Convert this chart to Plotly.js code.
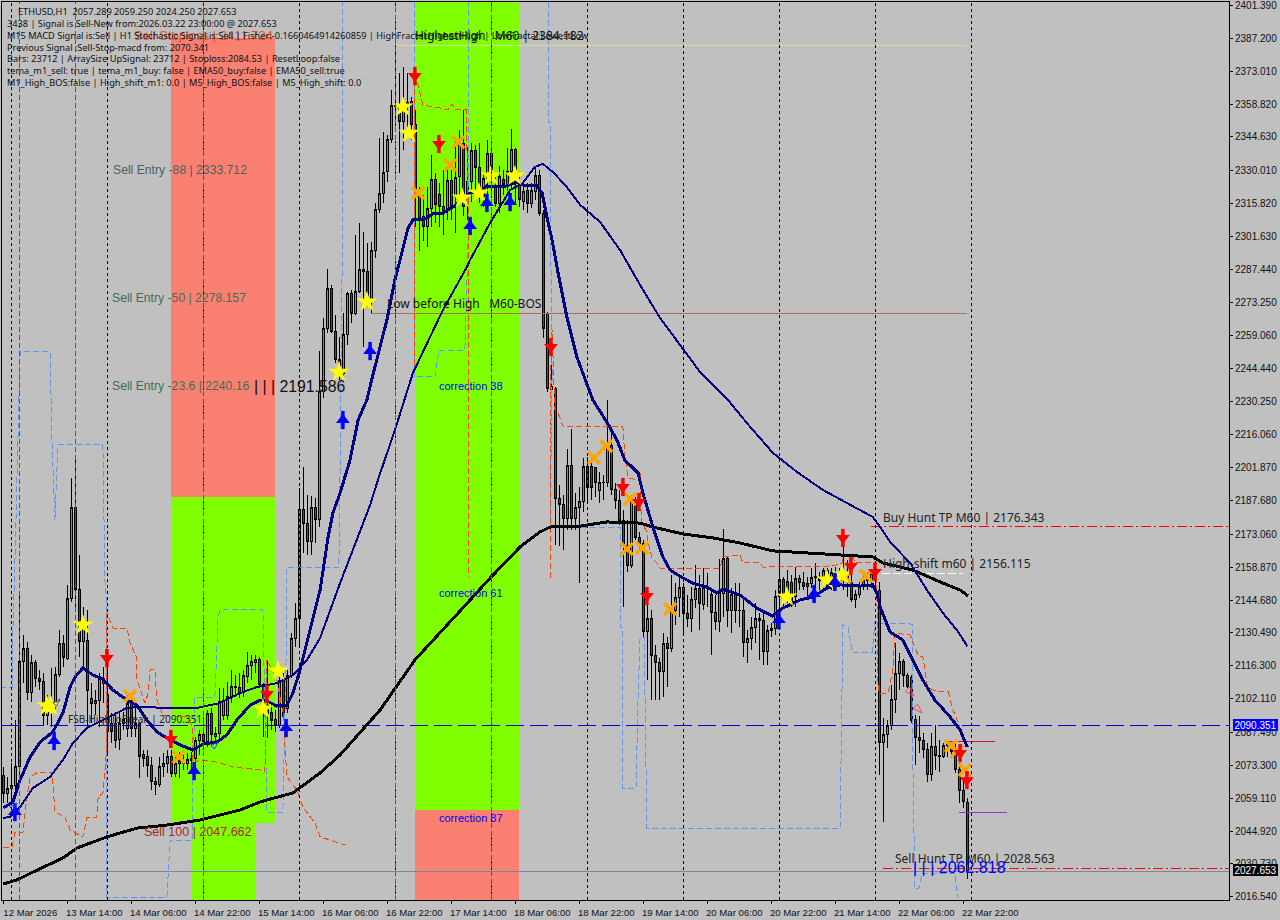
<!DOCTYPE html>
<html><head><meta charset="utf-8">
<script src="https://cdn.plot.ly/plotly-3.0.1.min.js"></script>
<style>html,body{margin:0;padding:0;background:#c0c0c0;overflow:hidden}#c{width:1280px;height:920px}
.boxlayer path,.shapelayer path,.scatterlayer .js-line{shape-rendering:crispEdges}</style>
</head><body><div id="c"></div>
<script>
const opens=[2069.1,2061.2,2063.4,2064.4,2072.7,2118.1,2123.8,2104.7,2117.8,2110.9,
2109.7,2094.7,2100.1,2100.1,2112.6,2126,2119.5,2145.4,2184.7,2149.3,
2126.7,2127.4,2102.2,2100.1,2101.5,2108.7,2103.7,2091.4,2091.4,2084.5,
2091.4,2089.3,2101.5,2089.3,2091.4,2077.8,2077,2073.4,2066.2,2065.1,
2072.7,2073.9,2077.3,2069.6,2073.9,2073.9,2074.2,2076.3,2076.3,2084.2,
2086.8,2083.5,2095.7,2085.7,2087.1,2095,2095,2102.9,2106.8,2107,
2104.7,2111.6,2116.2,2117.6,2119.1,2108,2099.3,2096.2,2092.9,2090.7,
2110.4,2097.9,2112.3,2128.1,2136.8,2183.6,2177.8,2169.9,2184.7,2179.5,
2234.7,2262,2279.3,2260.6,2243.3,2242.6,2259.4,2277.1,2268.5,2277.9,
2287.5,2286.6,2274.3,2295.6,2313.1,2320.3,2329.7,2343.6,2357.7,2358.4,
2351.2,2357.7,2359.9,2349.8,2318.9,2310.3,2305.9,2313.9,2326.4,2319.6,
2314.6,2313.9,2325.7,2318.9,2327.5,2341.9,2316,2325.4,2338.6,2331.6,
2318.9,2326.8,2337.6,2323.2,2316,2326.1,2323.9,2329.7,2339.3,2323.9,
2316.7,2321.5,2316,2321.1,2327.9,2311.7,2268.2,2236.8,2236,2188.5,
2186,2179.9,2202.9,2179.9,2184.7,2187.1,2202.5,2202.2,2201.8,2191.9,
2195.3,2195.5,2211.6,2192.4,2187.5,2179.2,2168.4,2159.5,2186.4,2171.7,
2169.1,2131,2136.7,2120.6,2117.6,2113.7,2126,2123.8,2140,2145.8,
2150.1,2138.9,2136.7,2144.7,2149.7,2142.9,2150,2147.2,2139.5,2135.3,
2147.5,2162.6,2140,2147.2,2140.3,2140,2126.2,2128.1,2132.9,2136.5,
2136,2122.4,2132.3,2132.4,2146.1,2153.6,2152.6,2152.1,2146.1,2154,
2152.3,2150.4,2151.9,2154.3,2154.4,2154.4,2157.3,2151.1,2156.5,2154.7,
2156.2,2155.5,2152.1,2145.1,2147.1,2150.4,2153.6,2153.3,2156.2,2148.8,
2083.1,2086.5,2090.3,2101.6,2113.1,2118.1,2112.3,2111.3,2092.9,2085.4,
2084,2080.3,2069.2,2081.4,2077.4,2077.1,2081.7,2082.1,2080.7,2071.3,2062.4,2057.289];
const highs=[2072.7,2068.4,2074.2,2092.9,2147.6,2129.6,2126.7,2120.9,2118.8,2114.5,
2113,2103.7,2115.2,2115.9,2131.7,2129.6,2151.2,2197.2,2206.6,2164.1,
2141.8,2140.4,2108.7,2105.8,2113,2115.9,2117.3,2095.7,2096.5,2096.5,
2096.5,2103.7,2104.4,2098.6,2091.4,2079.9,2079.9,2077,2068.4,2077,
2078.5,2079.9,2079.9,2077,2079.2,2077.8,2078.5,2079.2,2085.7,2088.5,
2088.5,2097.2,2097.9,2090,2106.5,2106.5,2109.4,2114.4,2112.3,2113,
2114.4,2122.4,2120.9,2120.9,2120.2,2108.7,2118.8,2100.1,2097.2,2111.6,
2113,2114.4,2130.3,2143.2,2192.9,2202.3,2190,2189.6,2188.6,2252,
2266.3,2287.5,2280.7,2267.8,2258.4,2268.5,2277.9,2278.6,2302.3,2307.4,
2303.8,2298.7,2299.4,2316,2344,2346.9,2345.5,2364.9,2384.3,2372.1,
2375,2372.1,2362,2356.3,2323.2,2319.6,2323.2,2336.9,2329,2324.7,
2330.4,2331.9,2330.4,2343.4,2347.7,2356.3,2340.5,2341.9,2341.2,2341.9,
2329,2343.4,2340.5,2327.5,2331.9,2330.4,2339.8,2348,2339.8,2329,
2326.1,2324.7,2324.7,2331.9,2330.4,2313,2269.2,2256.9,2236.8,2194.3,
2190,2210.1,2218.5,2190.7,2193.6,2205.8,2206.5,2205.8,2202.2,2200.1,
2198.6,2231,2216.6,2195,2192.1,2183.5,2179.2,2190,2189.3,2174.2,
2170.6,2142.5,2140.3,2125.2,2119.5,2130.3,2128.8,2155.5,2151.9,2154.7,
2151.9,2146.8,2150.4,2159.8,2155.5,2158.3,2156.2,2149.7,2146.8,2162.6,
2175.2,2163.4,2149.7,2151.9,2151.9,2144.7,2131.7,2137.5,2143.2,2138.9,
2138.9,2133.9,2134.6,2149,2166.2,2154.7,2157.6,2155.5,2159,2155.5,
2156.9,2154.7,2158.3,2160.5,2156.9,2158.3,2158.3,2158.3,2159,2158.3,
2167.7,2161.9,2156.2,2149,2152.6,2156.2,2156.9,2157.6,2158.3,2152.6,
2093.6,2092.9,2108,2126,2121.7,2119.1,2113.1,2112.3,2095.1,2094.4,
2087.2,2082.9,2087.2,2090.8,2084.3,2082.9,2083.6,2083.1,2082.9,2074.2,2067.7,2059.25];
const lows=[2056.9,2056.9,2056.9,2062.7,2068.4,2108.7,2101.5,2100.8,2107.3,2105.8,
2090.7,2090.7,2090,2097.2,2111.6,2115.9,2118.8,2144,2141.8,2120.2,
2114.5,2090,2091.4,2095,2090,2100.1,2078.5,2082.8,2080.6,2079.9,
2088.5,2085.7,2085.7,2085.7,2067.7,2072.7,2068.4,2062.6,2060.5,2064.1,
2068.4,2069.8,2068.4,2068.4,2067.7,2071.3,2071.3,2071.3,2069.8,2077.8,
2079.9,2081.3,2082.1,2082.8,2083.5,2092.9,2092.9,2100.1,2102.9,2102.2,
2102.9,2108.7,2110.1,2113,2107.3,2085.7,2084.9,2088.5,2087.8,2089.3,
2092.9,2095.7,2110.8,2124.5,2124.6,2165.1,2164.1,2164.1,2169.2,2176.4,
2231.8,2259.9,2259.9,2246.9,2239.7,2241.2,2254.8,2264.2,2267.8,2277.1,
2254.1,2271.4,2268.5,2292.2,2311.7,2316,2325.3,2341.9,2352,2328.9,
2339,2347.6,2343.3,2305.9,2295.2,2299.5,2297.3,2305.9,2307.4,2305.9,
2302.4,2308.8,2308.8,2303.1,2317.5,2310.3,2308.8,2316.7,2321.1,2316,
2314.6,2318.9,2320.3,2314.6,2311.7,2319.6,2321.1,2322.5,2316,2314.6,
2313.1,2311.7,2313.9,2317.5,2310.3,2258,2234.6,2233.9,2168.4,2168.1,
2166.2,2174.9,2174.9,2174.9,2151.9,2182.8,2186.4,2187.8,2189.3,2186.4,
2187.8,2193.6,2190,2184.2,2177,2141.8,2156.9,2158.3,2170.6,2165.5,
2128.8,2110.1,2101.5,2101.5,2101.5,2102.9,2107.2,2122.4,2133.9,2137.5,
2130.3,2133.1,2131,2141.1,2131.7,2140.3,2141.8,2120.9,2131.7,2131,
2137.5,2133.1,2130.3,2134.6,2133.1,2120.2,2117.3,2123.1,2126,2118.8,
2116.6,2116.6,2128.8,2129.5,2133.1,2141.8,2143.2,2141.8,2141.8,2149,
2149,2146.1,2149.7,2149.7,2149,2150.4,2149,2149,2149.7,2150.4,
2149,2146.1,2143.9,2141.1,2145.4,2149,2149,2149.7,2149.7,2069.2,
2049,2080.7,2088.6,2095.8,2105.9,2107.3,2106.6,2091.5,2073.5,2078.5,
2076.4,2065.9,2066.6,2071.3,2070.6,2076.4,2077.1,2076.4,2069.9,2057.2,2054.8,2024.25];
const closes=[2061.2,2063.4,2064.8,2072.7,2118.1,2123.8,2104.7,2117.6,2110.6,2109.4,
2094.7,2097.9,2099.4,2112.6,2126,2119.8,2145.4,2184.7,2149.3,2126.7,
2133.2,2105.8,2100.1,2101.5,2110.8,2110.8,2087.8,2087.8,2084.2,2091.4,
2092.9,2100.1,2089.3,2091.4,2077,2076.3,2073.4,2066.2,2065.1,2073,
2074.2,2077.3,2069.6,2073.9,2075.6,2074.9,2075.9,2075.6,2084.2,2086.8,
2083.5,2095.5,2086.4,2087.1,2100.8,2101.5,2103.2,2107.3,2107.3,2104.4,
2111.9,2116.2,2118,2118.8,2108.4,2099.3,2095.7,2092.6,2090.7,2110.1,
2094.3,2112.3,2128.1,2136.8,2183.6,2177.8,2169.9,2184.7,2179.5,2234.6,
2262,2279.3,2260.6,2248.4,2248.4,2259.4,2277.1,2268.5,2277.9,2287.5,
2286.6,2275.7,2295.8,2313.4,2320.3,2329.4,2343.6,2358.4,2358.4,2351.2,
2359.4,2359.4,2349.8,2318.9,2309.5,2305.9,2313.9,2326.4,2315.3,2314.6,
2312.4,2325.7,2314.6,2327.2,2341.9,2314.6,2325.4,2338.6,2331.6,2322.5,
2326.8,2337.6,2327.5,2316,2327.5,2323.9,2329.7,2339.3,2330.4,2317.5,
2321.1,2316,2321.5,2327.9,2311.7,2262.1,2236.1,2235.8,2188.5,2186.1,
2179.9,2202.9,2179.9,2184.7,2187.1,2202.5,2193.3,2193.3,2195.5,2195.5,
2195.5,2210.9,2192.4,2187.5,2179.2,2168.4,2159.5,2187.1,2171.7,2169.1,
2131,2136.7,2120.6,2117.6,2113.7,2126,2123.8,2140.3,2145.8,2150.1,
2138.9,2136.7,2144.7,2149.7,2143.2,2150,2149.6,2139.5,2135.6,2147.8,
2162.6,2140,2147.2,2140,2140,2126.2,2128.1,2132.9,2136.5,2136,
2122.4,2131.7,2131.7,2146.1,2153.6,2146.1,2146.1,2142.5,2154,2152.1,
2150.4,2151.9,2154.4,2154.7,2153.3,2157.6,2151.1,2156.5,2154.7,2156.9,
2155.5,2152.1,2145.1,2147.1,2150.4,2153.3,2153,2156.2,2153.3,2083.1,
2086.5,2090.3,2101.6,2113.1,2118.1,2111.9,2107.3,2092.6,2085.4,2084,
2080.3,2069.2,2081.4,2077.4,2077.1,2081.7,2082.1,2079.2,2071.3,2062.4,2057.7,2027.653];
const bars=opens.map((_,i)=>i);

const fastBars=[0,2.4,4.2,6.7,9.2,12.4,14.9,16.7,17.9,19.9,22.4,24.9,27.4,30.9,33.4,35.9,38.4,40.9,44.2,47.4,49.9,53.4,55.9,58.4,61.7,64.2,65.9,68.4,70.9,72.4,74.2,75.9,77.4,79.2,81.2,82.4,84.2,86.7,88.7,90.9,92.2,95.9,97.9,99.9,101.2,102.4,104.9,107.4,109.9,112.4,114.7,116.7,119.2,120.9,123.4,125.9,128.4,129.9,133.4,134.7,135.9,137.2,138.7,140.9,143.4,145.9,147.4,150.9,153.4,155.4,158.7,159.9,162.4,164.9,166.7,169.9,172.4,175.9,178.4,179.9,184.2,188.4,192.2,194.9,199.2,202.4,205.9,209.2,214.2,217.4,218.4,219.2,221.7,224.9,227.4,229.9,232.9,236.7,239.2,241];
const fastVals=[2054.9,2057.5,2067,2076.9,2083.4,2087.7,2095.9,2107.1,2111.4,2115.3,2112.3,2110.6,2105.8,2101.5,2099.3,2092.9,2087.7,2085.1,2082.1,2079.9,2082.5,2083.4,2086.4,2092.9,2099.3,2101.5,2101.1,2098.9,2099.3,2104.5,2114.5,2126.1,2137.3,2149,2171.9,2182.3,2190.9,2205.2,2222.4,2231.1,2240.5,2265.6,2282.9,2297.1,2305.3,2308.8,2308.8,2311.4,2311.8,2314.4,2317.4,2320.4,2320.9,2323.5,2323,2323.5,2325.2,2323.9,2323.5,2320.4,2310.1,2300.1,2285.9,2266.9,2249.6,2238.4,2231,2221.5,2213.8,2205.1,2199.5,2190.9,2176.2,2163.3,2157.6,2154.2,2152,2150.3,2147.7,2149.4,2146.8,2141.2,2137.8,2141.2,2144.7,2146,2149.9,2151.2,2150.7,2151.2,2147.7,2141.7,2130.9,2127.4,2118.8,2110.1,2101.5,2094.2,2088.6,2081.2];
const midBars=[0,1.7,4.2,7.4,11.7,14.9,17.4,20.9,25.9,30.9,34.2,40.9,48.4,54.2,59.2,63.4,68.4,72.4,75.9,79.2,84.2,88.4,91.7,93.9,97.9,102.4,109.9,115.9,116.7,121.7,126.7,129.9,132.9,134.9,137.4,140.9,144.2,149.2,154.2,159.2,164.2,169.2,174.2,181.2,185.9,192.4,198.4,204.9,210.9,217.4,219.2,221.7,226.7,230.9,234.9,238.4,241];
const midVals=[2050.6,2051,2055.3,2063.5,2068.3,2075.6,2082.9,2089.4,2093.7,2098.1,2098.5,2098.1,2098.1,2100.2,2104.5,2107.1,2108.8,2112.3,2118.8,2128.3,2152,2170.6,2185.7,2197.8,2218.1,2242.7,2269.9,2288.5,2291.5,2307.5,2321.7,2324.8,2331.7,2333,2329.5,2323,2315.3,2307.9,2295.8,2280.7,2266.4,2254.8,2243.1,2231,2221.1,2208.2,2200,2192.2,2186.6,2180.5,2176.2,2169.7,2160.7,2149,2139.1,2131.7,2124.8];
const slowBars=[0,3.4,7.4,14.9,18.4,25.9,33.4,40.9,49.2,59.2,64.2,72.4,79.2,84.2,94.2,102.9,116.7,121.7,129.2,134.2,136.7,144.2,150.9,159.2,162.4,169.9,177.4,184.2,192.4,205.9,217.4,219.9,227.4,234.9,239.2,241.2];
const slowVals=[2022.1,2023.8,2027.2,2033.3,2037.6,2042.4,2046.2,2047.5,2049.7,2054,2057.5,2061.4,2070,2077.8,2097.2,2118.8,2144.7,2154.2,2167.6,2174.1,2176.2,2176.6,2178.4,2177.9,2176.2,2173.2,2171.5,2169.3,2165.9,2164.6,2163.3,2160.7,2157.6,2152,2149,2146.4];
const upperBars=[0,2.2,2.9,4.9,5.9,6.7,8.7,12.2,12.9,15.4,16.7,19.9,20.9,23.4,23.7,24.9,25.9,25.9,27.4,30.9,31.7,33.4,33.4,35.4,36.2,36.7,37.9,38.4,39.9,45.9,47.4,47.4,49.2,53.4,57.4,64.2,65.4,65.9,68.4,69.9,70.9,73.4,74.9,77.9,79.2,85.4,null,102.7,102.7,103.7,104.9,109.2,111.2,112.2,113.2,115.7,116.2,116.2,null,136.7,136.7,137.2,137.9,138.7,139.9,154.9,155.4,156.2,158.7,159.2,159.2,159.7,160.9,161.2,162.2,163.4,164.2,179.2,179.9,184.2,184.9,189.2,189.9,207.4,209.7,209.9,212.4,212.9,218.4,218.4,218.7,219.2,221.2,222.4,222.9,226.7,227.4,228.7,229.9,230.9,231.2,233.7,236.2,237.4,239.2];
const upperVals=[2038,2038,2044.1,2044.1,2059.6,2068.3,2070.4,2070.4,2053.1,2051,2045.4,2042.4,2050.6,2051,2059.6,2061.3,2081.2,2139.1,2132.6,2132.6,2126.1,2119.6,2110.1,2100.2,2104.5,2114.5,2114.5,2101.5,2095,2094.2,2089.9,2074.3,2075.6,2074.7,2072.6,2071.3,2070.4,2118.8,2110.1,2095.9,2068.3,2062.7,2055.3,2048.4,2042.4,2038.9,null,2246.2,2369.2,2367.1,2358.4,2357.1,2356.3,2358.9,2356.3,2356.3,2317.4,2154.6,null,2154.2,2235.4,2261.3,2226.7,2225.4,2219.8,2219.4,2206.4,2197.4,2196.5,2199.9,2187.9,2177.9,2174.1,2169.3,2162.8,2160.7,2158.5,2158.5,2163.3,2164.1,2160.7,2160.7,2158.9,2159.4,2160.7,2164.1,2163.3,2160.7,2161.1,2146,2105.8,2104.5,2104.5,2114.5,2130.4,2129.6,2126.1,2120.9,2120.1,2108.8,2106.7,2105,2105,2097.2,2089.9];
const lowerBars=[-0.8,2.2,2.4,2.9,4.2,11.7,12.2,12.9,13.4,13.7,24.9,25.4,25.9,25.9,40.9,41.7,47.2,47.4,47.9,52.9,53.7,54.2,64.9,65.9,69.9,70.9,70.9,83.9,84.2,84.4,84.7,84.7,null,102.7,102.7,107.9,108.9,115.4,116.2,116.4,null,136.4,136.4,136.9,136.9,137.2,136.7,137.4,154.2,154.2,154.7,154.9,158.2,158.7,159.2,160.2,160.4,160.9,209.2,209.7,209.7,209.9,211.2,212.2,217.2,217.9,227.2,227.4,227.4,227.9,228.9,229.7,237.9,238.7];
const lowerVals=[2107.1,2107.1,2131.7,2160.7,2251.8,2251.8,2211.6,2179.2,2200.8,2212,2212,2153.3,2139.1,2016.4,2016.4,2041,2041,2065.7,2102.8,2102.8,2137.3,2140.4,2140.4,2053.1,2053.1,2136,2158.9,2158.9,2200.8,2231,2287.2,2402.9,null,2402.9,2241,2241,2252.6,2252.6,2300.1,2402.9,null,2402.9,2350.7,2350.7,2291.5,2242.7,2176.2,2175.8,2175.8,2133,2133,2063.5,2063.5,2102.8,2128.7,2128.7,2101.5,2046.2,2046.2,2101.5,2121.8,2133.9,2133,2122.2,2122.2,2134.8,2134.3,2118.8,2074.3,2020.3,2020.3,2026.8,2026.8,2016];

const starBars=[10.9,11.9,19.9,64.9,68.7,83.9,90.9,99.9,101.4,114.7,118.9,121.9,127.9,195.9,205.9,209.7];
const starVals=[2098.9,2098.9,2133.9,2097.6,2114,2243.1,2273.4,2357.6,2346.3,2318.3,2320.4,2327.8,2327.8,2146,2153.3,2155.5];
const crossBars=[31.7,43.9,103.7,111.7,113.7,147.7,150.7,155.9,156.7,159.7,166.7,210.4,215.7,236.9,238.4,240.4];
const crossVals=[2103.2,2076.9,2320.4,2332.5,2342.4,2206,2211.2,2166.7,2188.3,2167.1,2140.8,2154.6,2155.1,2081.6,2079.5,2071.3];
const sellBars=[25.9,41.9,65.9,102.9,108.9,136.9,154.9,158.9,160.9,209.9,211.9,217.9,239.2,240.9];
const sellVals=[2119.6,2084.7,2104.1,2370.9,2341.6,2253.9,2193.5,2187,2146.4,2171.5,2159.4,2156.8,2078.6,2066.9];
const buyBars=[2.9,12.7,47.7,70.7,84.9,91.7,116.7,120.9,126.7,193.9,202.7,207.9];
const buyVals=[2053.1,2083.8,2070.8,2089.4,2222.4,2252.2,2306.2,2316.1,2316.5,2136,2147.3,2152.5];
const hollowRedBars=[227.7,229.7], hollowRedVals=[2103.2,2095.9];
const hollowBlueBars=[3.4,14.2,53.7], hollowBlueVals=[2057,2101.9,2083.4];

const yTicks=[2401.39,2387.2,2373.01,2358.82,2344.63,2330.01,2315.82,2301.63,2287.44,2273.25,2259.06,2244.44,2230.25,2216.06,2201.87,2187.68,2173.06,2158.87,2144.68,2130.49,2116.3,2102.11,2087.49,2073.3,2059.11,2044.92,2030.73,2016.54];
const xTicks=[0,16,32,48,64,80,96,112,128,144,160,176,192,208,224,240];
const xLabels=['12 Mar 2026','13 Mar 14:00','14 Mar 06:00','14 Mar 22:00','15 Mar 14:00','16 Mar 06:00','16 Mar 22:00','17 Mar 14:00','18 Mar 06:00','18 Mar 22:00','19 Mar 14:00','20 Mar 06:00','20 Mar 22:00','21 Mar 14:00','22 Mar 06:00','22 Mar 22:00'];
const dayBars=[2,26,50,74,98,122,146,170,194,218,242];
const sessionBars=[4,18,50,98,122];
const zones=[[41.9,67.9,2189.2,2387.4,'#fa8072'],[41.9,67.9,2048.4,2189.2,'#7fff00'],[46.9,62.9,2015.2,2048.4,'#7fff00'],[102.9,128.9,2054,2402.9,'#7fff00'],[102.9,128.9,2015.2,2054,'#fa8072']];
const levels=[
 {b:[-0.3,306.4],v:[2090.351,2090.351],c:'#0000cd',d:'18px,6px',w:1},
 {b:[-0.3,306.4],v:[2027.653,2027.653],c:'#778899',d:'solid',w:1},
 {b:[219.9,306.4],v:[2028.563,2028.563],c:'#ff0000',d:'10px,3px,2px,3px',w:1},
 {b:[216.9,306.4],v:[2176.343,2176.343],c:'#ff0000',d:'10px,3px,2px,3px',w:1},
 {b:[217,240],v:[2156.115,2156.115],c:'#ffffff',d:'8px,3px',w:1},
 {b:[92,241],v:[2268.6,2268.6],c:'#a8705a',d:'solid',w:1},
 {b:[98,241],v:[2384.182,2384.182],c:'#d6dc8c',d:'solid',w:1},
 {b:[236,248],v:[2083.8,2083.8],c:'#c8143c',d:'solid',w:1},
 {b:[239,251],v:[2053,2053],c:'#9932cc',d:'solid',w:1}
];

const traces=[];
traces.push({type:'candlestick',x:bars,open:opens,high:highs,low:lows,close:closes,whiskerwidth:0,
 increasing:{line:{color:'#000',width:1},fillcolor:'#3cb371'},decreasing:{line:{color:'#000',width:1},fillcolor:'#b22237'},hoverinfo:'skip',showlegend:false});
const line=(x,y,color,width,dash)=>traces.push({type:'scatter',mode:'lines',x,y,connectgaps:false,line:{color,width,dash:dash||'solid'},hoverinfo:'skip',showlegend:false});
line(lowerBars,lowerVals,'#6495ed',1,'6px,3px');
line(upperBars,upperVals,'#ff4500',1,'6px,3px');
levels.forEach(l=>line(l.b,l.v,l.c,l.w,l.d));
line(slowBars,slowVals,'#000000',3);
line(midBars,midVals,'#000080',2);
line(fastBars,fastVals,'#000080',3);
const pts=(x,y,symbol,size,color,lw,lc,extra)=>traces.push({type:'scatter',mode:'markers',x,y,marker:Object.assign({symbol,size,color,line:{width:lw||0,color:lc||color}},extra||{}),hoverinfo:'skip',showlegend:false});
pts(crossBars,crossVals,'x-thin',12,'#ffa500',3.5,'#ffa500');
pts(starBars,starVals,'star',16,'#ffff00');
pts(sellBars,sellVals,'line-ns',13,'#ff0000',3.5,'#ff0000');
pts(sellBars,sellVals,'triangle-down',12,'#ff0000');
pts(buyBars,buyVals,'line-ns',13,'#0000ff',3.5,'#0000ff');
pts(buyBars,buyVals,'triangle-up',12,'#0000ff');
pts(hollowRedBars,hollowRedVals,'arrow-open',10,'#ff4060',1,'#ff4060',{angle:[135,135]});
pts(hollowBlueBars,hollowBlueVals,'arrow-open',8,'#2040ff',1,'#2040ff',{angle:[45,45,45]});

const L=2,T=2,W=1227,H=898;
const note=(text,px,py,size,color,family,extra)=>Object.assign({text,xref:'paper',yref:'paper',x:(px-L)/W,y:1-(py-T)/H,xanchor:'left',yanchor:'middle',showarrow:false,align:'left',borderpad:0,borderwidth:0,
 font:{size,color,family}},extra||{});
const TA='"Noto Sans","DejaVu Sans",sans-serif', AR='"Liberation Sans",Arial,sans-serif';
const annotations=[
 note('ETHUSD,H1  2057.289 2059.250 2024.250 2027.653',18,11,9.2,'#111',TA),
 note('3438 | Signal is Sell-New from:2026.03.22 23:00:00 @ 2027.653',7,23,9.2,'#111',TA),
 note('Sell Stoploss | 2411.724',134,35,13,'#e8502c',AR),
 note('M15 MACD Signal is:Sell | H1 Stochastic Signal is:Sell | Fisher:-0.1660464914260859 | HighFractal:HighestHigh | LowFractal:LowestLow',7,35,9.2,'#111',TA),
 note('HighestHigh   M60 | 2384.182',415,35,12,'#111',TA),
 note('Previous Signal :Sell-Stop-macd from: 2070.341',7,47,9.2,'#111',TA),
 note('Bars: 23712 | ArraySize UpSignal: 23712 | Stoploss:2084.53 | ResetLoop:false',7,59,9.2,'#111',TA),
 note('tema_m1_sell: true | tema_m1_buy: false | EMA50_buy:false | EMA50_sell:true',7,71,9.2,'#111',TA),
 note('M1_High_BOS:false | High_shift_m1: 0.0 | M5_High_BOS:false | M5_High_shift: 0.0',7,83,9.2,'#111',TA),
 note('Sell Entry -88 | 2333.712',113,170,12.2,'#4d6060',AR),
 note('Sell Entry -50 | 2278.157',112,298,12.2,'#3e6e58',AR),
 note('Sell Entry -23.6 | 2240.16',112,386,12.2,'#3e6e58',AR),
 note('| | | 2191.586',254,387,15.8,'#111',AR),
 note('Low before High   M60-BOS',387,303,12,'#111',TA),
 note('correction 38',439,386,11,'#0000ff',AR),
 note('correction 61',439,593,11,'#0000ff',AR),
 note('correction 87',439,818,11,'#0000ff',AR),
 note('FSB-HighToBreak | 2090.351',68,719,10,'#222',TA),
 note('Sell 100 | 2047.662',144,832,12.5,'#a52a2a',AR),
 note('Buy Hunt TP M60 | 2176.343',883,517,12,'#222',TA),
 note('High-shift m60 | 2156.115',883,563,12,'#222',TA),
 note('Sell Hunt TP M60 | 2028.563',895,858,12,'#222',TA),
 note('| | | 2062.818',913,867,16,'#0000ff',AR),
 note('2090.351',1233,725,10,'#fff',AR,{bgcolor:'#0000ff',width:45,height:12,align:'center'}),
 note('2027.653',1233,870,10,'#fff',AR,{bgcolor:'#000000',width:45,height:12,align:'center'})
];
const shapes=[];
zones.forEach(z=>shapes.push({type:'rect',layer:'below',xref:'x',yref:'y',x0:z[0],x1:z[1],y0:z[2],y1:z[3],fillcolor:z[4],line:{width:0}}));
dayBars.forEach(b=>shapes.push({type:'line',layer:'above',xref:'x',yref:'paper',x0:b,x1:b,y0:0,y1:1,line:{color:'#000',width:1,dash:'3px,3px'}}));
sessionBars.forEach(b=>shapes.push({type:'line',layer:'above',xref:'x',yref:'paper',x0:b+0.01,x1:b+0.01,y0:0,y1:1,line:{color:'#d01090',width:1,dash:'5px,3px'}}));

Plotly.newPlot('c',traces,{
 width:1280,height:920,showlegend:false,hovermode:false,dragmode:false,boxgap:0.2,
 paper_bgcolor:'#c0c0c0',plot_bgcolor:'#c0c0c0',
 margin:{l:L,r:1280-L-W,t:T,b:920-T-H,pad:0},
 font:{family:AR,size:10,color:'#111'},
 xaxis:{type:'linear',range:[-0.325,306.425],rangeslider:{visible:false},showgrid:false,zeroline:false,showline:true,mirror:true,linecolor:'#000',linewidth:1,
  tickmode:'array',tickvals:xTicks,ticktext:xLabels,ticks:'outside',ticklen:3,tickcolor:'#000',tickangle:0,ticklabelshift:27,tickfont:{size:9.6,family:AR,color:'#111'}},
 yaxis:{type:'linear',side:'right',range:[2015.15,2402.906],showgrid:false,zeroline:false,showline:true,mirror:true,linecolor:'#000',linewidth:1,
  tickmode:'array',tickvals:yTicks,ticktext:yTicks.map(v=>v.toFixed(3)),ticks:'outside',ticklen:3,tickcolor:'#000',tickfont:{size:10,family:AR,color:'#111'}},
 shapes,annotations
},{displayModeBar:false,staticPlot:true});
</script></body></html>
